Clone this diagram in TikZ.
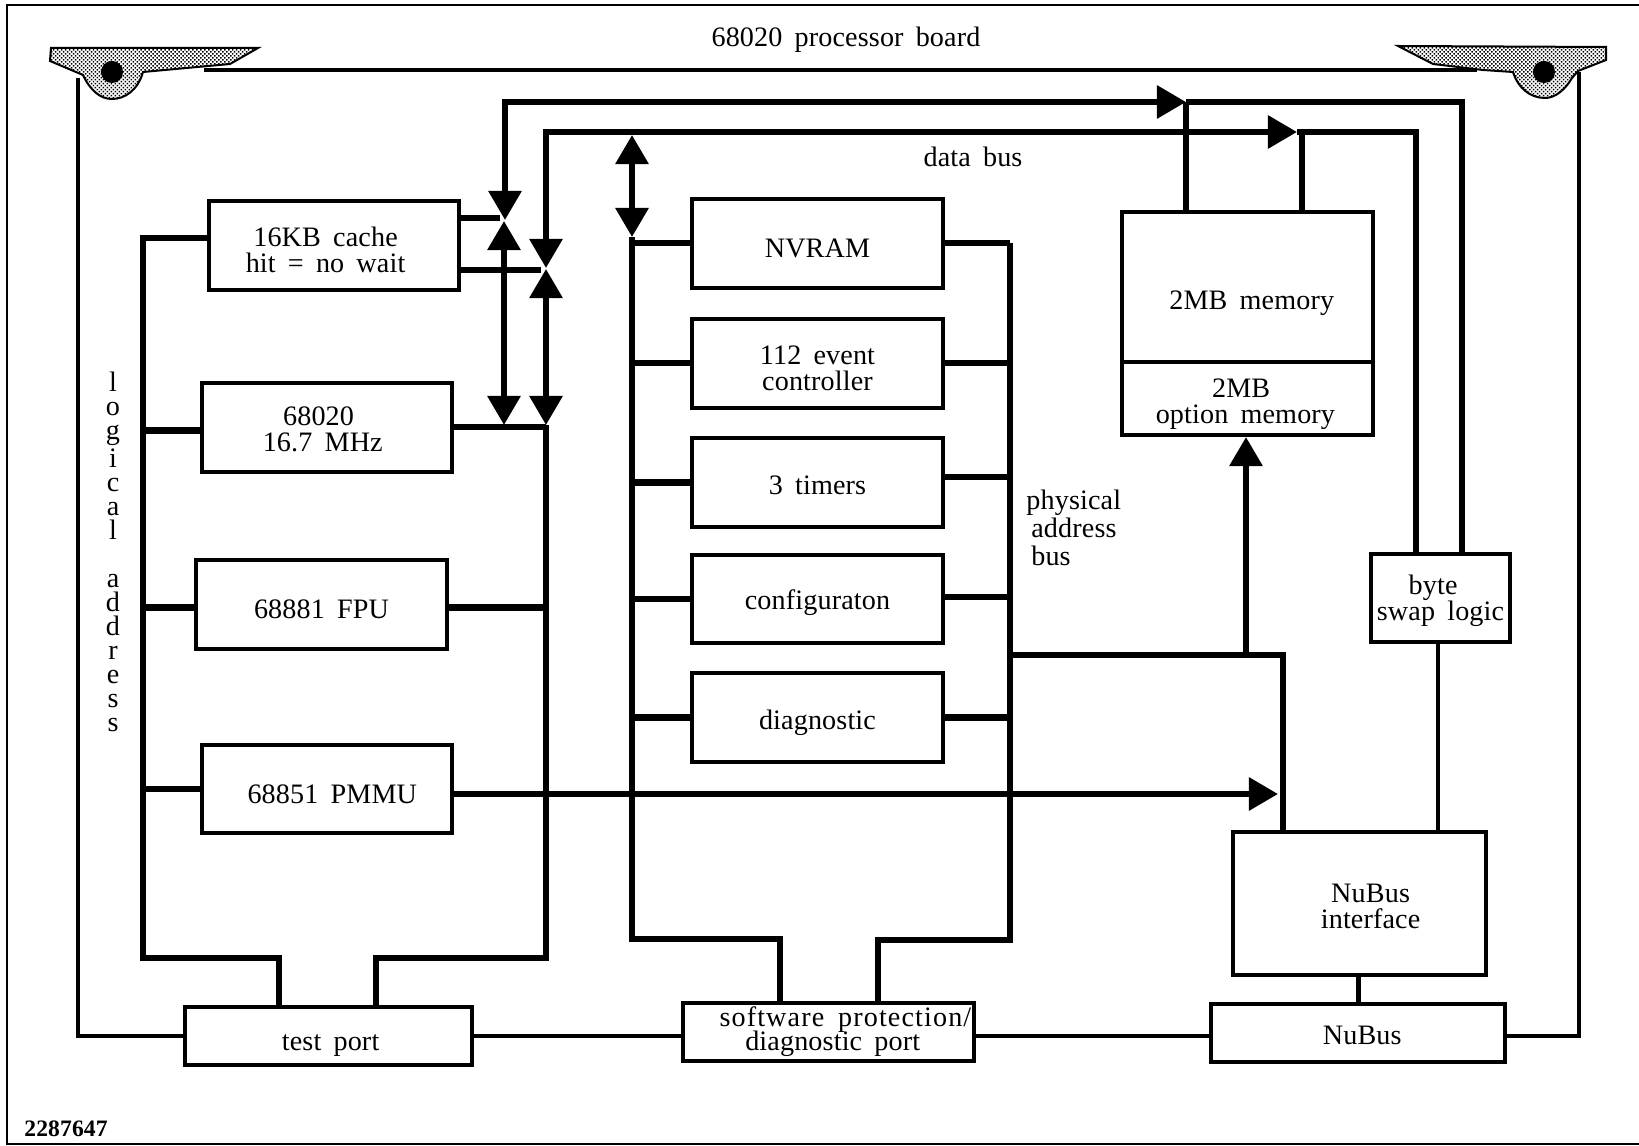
\documentclass[tikz,border=0pt]{standalone}
\usepackage{fontspec}
\setmainfont[WordSpace=1.7,LetterSpace=0.5]{Liberation Serif}
\usetikzlibrary{arrows.meta,patterns.meta}
\newcommand{\nudge}[1]{\hspace*{#1}}
\newcommand{\lift}[1]{\rule[-#1]{0pt}{0pt}}
\begin{document}
\begin{tikzpicture}[x=0.01cm,y=-0.01cm,
  every node/.style={font=\fontsize{8}{7.4}\selectfont},
  >={Triangle[length=0.29cm,width=0.32cm]},
  blockbox/.style={draw,line width=0.04cm,align=center,inner sep=0pt,minimum width=2.5cm,minimum height=0.88cm,
    execute at begin node={\rule{0pt}{9.9pt}},execute at end node={\lift{1.7pt}}},
  twoline/.style={blockbox,execute at begin node={\rule{0pt}{17.3pt}}},
  bus/.style={line width=0.06cm},
  boardline/.style={line width=0.04cm},
  frameline/.style={line width=0.025cm},
  bracket/.style={draw,line width=0.02cm,pattern={Dots[distance=0.8pt,radius=0.3pt,angle=45]}}]
\useasboundingbox (0,0) rectangle (1639,1146);
\draw[frameline] (1639,5) -- (7,5) -- (7,1144) -- (1639,1144);

\node[twoline] (cache) at (334,245.5) {\nudge{-4.8pt}16KB cache\\\nudge{-4.8pt}hit = no wait};
\node[twoline] (cpu) at (327,427.5) {\nudge{-4.8pt}68020\\\nudge{-2.4pt}16.7 MHz\lift{3.7pt}};
\node[blockbox] (fpu) at (321.5,604.5) {68881 FPU};
\node[blockbox] (pmmu) at (327,789) {\nudge{3pt}68851 PMMU};
\node[blockbox] (nvram) at (817.5,243.5) {NVRAM};
\node[twoline] (evctl) at (817.5,363.5) {112 event\\controller};
\node[blockbox] (timers) at (817.5,482.5) {3 timers\lift{3.2pt}};
\node[blockbox] (config) at (817.5,599) {configuraton\lift{3.7pt}};
\node[blockbox] (diag) at (817.5,717.5) {diagnostic\lift{3pt}};
\node[blockbox,minimum height=1.5cm] (mem) at (1247.5,287) {\rule{0pt}{14.5pt}\nudge{2.4pt}2MB memory};
\node[twoline,minimum height=0.73cm] (optmem) at (1247.5,398.5) {\nudge{-3.6pt}2MB\\\nudge{-1.2pt}option memory\lift{3.2pt}};
\node[twoline,minimum width=1.39cm] (swap) at (1440.5,598) {\nudge{-4.2pt}byte\\swap logic\lift{4.7pt}};
\node[twoline,minimum width=2.53cm,minimum height=1.43cm] (nuif) at (1359.5,903.5) {\nudge{6.3pt}NuBus\\\nudge{6.3pt}interface\lift{3.1pt}};
\node[blockbox,minimum width=2.86cm,minimum height=0.57cm] (test) at (328.5,1036) {\nudge{1.2pt}test port};
\node[blockbox,minimum width=2.91cm,minimum height=0.58cm,execute at begin node={\rule{0pt}{13.4pt}}] (soft) at (828.5,1032) {\nudge{9.6pt}{\addfontfeature{LetterSpace=4}software protection/}\\[-0.57pt]\nudge{2.4pt}diagnostic port\lift{3pt}};
\node[blockbox,minimum width=2.94cm,minimum height=0.58cm] (nubus) at (1358,1033) {\nudge{2.4pt}NuBus\lift{3.2pt}};

\node (title) at (846,40) {68020 processor board};
\node (datalab) at (973,157) {data bus};
\node[align=left,anchor=west,font=\fontsize{8}{7.9}\selectfont] (physlab) at (1014,528) {physical\\\nudge{1.4pt}address\\\nudge{1.4pt}bus};
\node[align=center,font=\fontsize{8}{6.83}\selectfont] (loglab) at (113,552) {l\\o\\g\\i\\c\\a\\l\\[6.83pt]a\\d\\d\\r\\e\\s\\s};
\node[anchor=west,font=\fontsize{6.7}{7}\selectfont\bfseries] (numlab) at (12,1129) {2287647};

\path[bracket] (51,48) -- (258,48) -- (230,64) -- (143,72) .. controls (138,90) and (125,99) .. (112,99) .. controls (100,99) and (90,90) .. (83,75) -- (50,61) -- cycle;
\path[bracket] (1398,46) -- (1606,47) -- (1606,60) -- (1578,71) -- (1572,78) .. controls (1565,90) and (1555,98) .. (1545,98) .. controls (1530,98) and (1518,88) .. (1513,72) -- (1483,70) -- (1433,64) -- cycle;
\fill (112,72) circle (0.11cm);
\fill (1544,72) circle (0.11cm);

\coordinate (boardtl) at (204,70);
\coordinate (boardtr) at (1477,70);
\coordinate (boardl) at (78,78);
\coordinate (boardr) at (1579,72);
\draw[boardline] (boardtl) -- (boardtr);
\draw[boardline] (boardl) |- (test.west);
\draw[boardline] (test.east) -- (soft.west |- test.east);
\draw[boardline] (soft.east |- test.east) -- (nubus.west |- test.east);
\draw[boardline] (nubus.east |- test.east) -| (boardr);

\coordinate (abus) at (505,102);
\coordinate (abustip) at (1186,102);
\coordinate (abusr) at (1462,102);
\coordinate (abusd) at (505,220);
\coordinate (abusu) at (504,221);
\coordinate (abuse) at (504,425);
\draw[bus,<->] (abusd) -- (abus) -- (abustip);
\draw[bus] (abustip) -- (abusr) -- (abusr |- swap.north);
\draw[bus] (abustip) -- (abustip |- mem.north);
\draw[bus,<->] (abusu) -- (abuse);

\coordinate (bbus) at (546,132);
\coordinate (bbustip) at (1297,132);
\coordinate (bbusm) at (1302,132);
\coordinate (bbusr) at (1416,132);
\coordinate (bbusd) at (546,268);
\coordinate (bbusu) at (546,269);
\coordinate (bbuse) at (546,425);
\coordinate (bbusl) at (546,958);
\coordinate (testb) at (376,958);
\draw[bus,<->] (bbusd) -- (bbus) -- (bbustip);
\draw[bus] (bbustip) -- (bbusr) -- (bbusr |- swap.north);
\draw[bus] (bbusm) -- (bbusm |- mem.north);
\draw[bus,<->] (bbusu) -- (bbuse);
\draw[bus] (bbuse) -- (bbusl) -- (testb) -- (testb |- test.north);

\coordinate (cachea) at (500,218);
\coordinate (cacheb) at (541,270);
\draw[bus] (cachea -| cache.east) -- (cachea);
\draw[bus] (cacheb -| cache.east) -- (cacheb);
\draw[bus] (cpu.east) -- (cpu.east -| bbuse);
\draw[bus] ([yshift=-0.03cm]fpu.east) -- ([yshift=-0.03cm]fpu.east -| bbuse);

\coordinate (lbust) at (143,238);
\coordinate (lbusb) at (143,958);
\coordinate (testa) at (279,958);
\draw[bus] (lbust -| cache.west) -- (lbust) -- (lbusb) -- (testa) -- (testa |- test.north);
\foreach \blk/\gap in {cpu/-0.03,fpu/-0.03,pmmu/0} {\draw[bus] ([yshift=\gap cm]\blk.west) -- ([yshift=\gap cm]\blk.west -| lbust);}

\coordinate (pbusu) at (632,135);
\coordinate (pbusd) at (632,237);
\coordinate (pbusb) at (632,939);
\coordinate (softa) at (780,939);
\draw[bus,<->] (pbusu) -- (pbusd);
\draw[bus] (pbusd) -- (pbusb) -- (softa) -- (softa |- soft.north);
\coordinate (qbust) at (1010,243);
\coordinate (qbusb) at (1010,940);
\coordinate (softb) at (878,940);
\draw[bus] (qbust) -- (qbusb) -- (softb) -- (softb |- soft.north);
\foreach \blk/\gap in {nvram/0,evctl/0,timers/0.05,config/0.02,diag/0} {\draw[bus] (\blk.west) -- (\blk.west -| pbusd); \draw[bus] ([yshift=\gap cm]\blk.east) -- ([yshift=\gap cm]\blk.east -| qbust);}

\coordinate (physm) at (1010,655);
\coordinate (physa) at (1246,655);
\coordinate (physb) at (1283,655);
\coordinate (phystip) at (1278,794);
\draw[bus] (physm) -- (physb) -- (physb |- nuif.north);
\draw[bus,->] (physa) -- (physa |- optmem.south);
\draw[bus,->] (phystip -| pmmu.east) -- (phystip);

\coordinate (swapl) at (1438,642);
\draw[boardline] (swapl) -- (swapl |- nuif.north);
\draw[boardline,line width=0.05cm] (nuif.south -| nubus.north) -- (nubus.north);
\end{tikzpicture}
\end{document}
